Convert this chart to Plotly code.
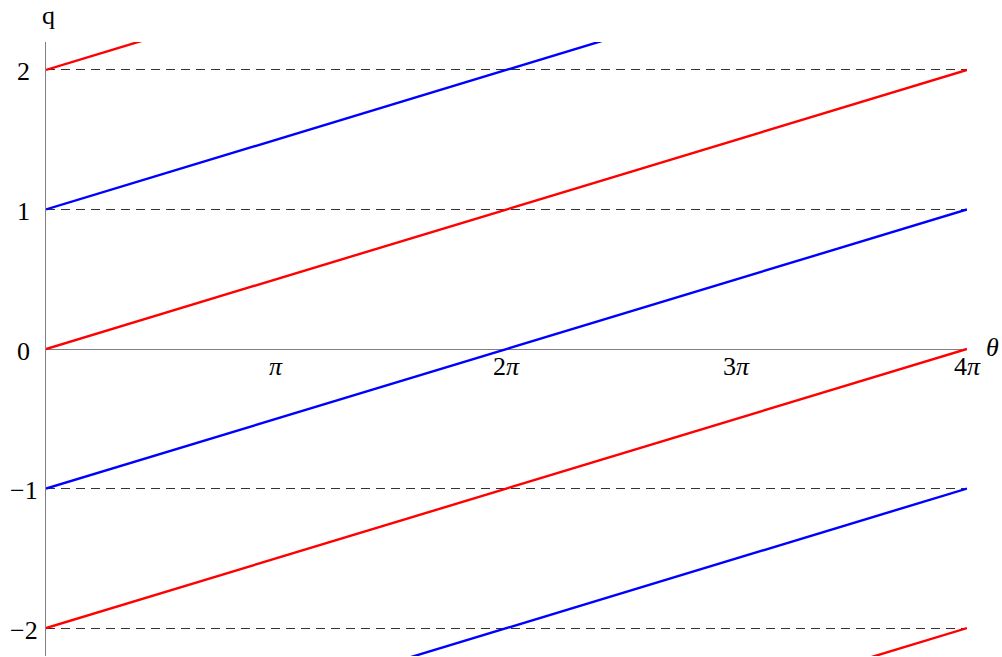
import math
import plotly.graph_objects as go

# Data: each line q = theta/(2*pi) + n drawn from theta=0 to theta=4*pi
theta_start = 0.0
theta_end = 4 * math.pi
q_start = [2, 1, 0, -1, -2, -3, -4]
q_end = [4, 3, 2, 1, 0, -1, -2]
line_colors = ["#ff0000", "#0000ff", "#ff0000", "#0000ff", "#ff0000", "#0000ff", "#ff0000"]

x_tickvals = [math.pi, 2 * math.pi, 3 * math.pi, 4 * math.pi]
x_ticktext = ["<i>π</i>", "2<i>π</i>", "3<i>π</i>", "4<i>π</i>"]
y_tickvals = [-2, -1, 0, 1, 2]
y_ticktext = ["−2", "−1", "0", "1", "2"]

fig = go.Figure()
for qs, qe, c in zip(q_start, q_end, line_colors):
    fig.add_trace(go.Scatter(
        x=[theta_start, theta_end], y=[qs, qe], mode="lines",
        line=dict(color=c, width=2.4), showlegend=False, hoverinfo="skip"))

font = dict(family="Liberation Serif, Times New Roman, serif", size=26, color="black")

annotations = []
for v, t in zip(x_tickvals, x_ticktext):
    annotations.append(dict(text=t, x=v, y=0, xref="x", yref="y",
                            xanchor="center", yanchor="middle", yshift=-17,
                            showarrow=False, font=font))
for v, t in zip(y_tickvals, y_ticktext):
    annotations.append(dict(text=t, x=0, y=v, xref="x", yref="y",
                            xanchor="center", yanchor="middle", xshift=-22.5, yshift=-2,
                            showarrow=False, font=font))
annotations.append(dict(text="q", x=0, y=1, xref="x", yref="paper", xanchor="center",
                        yanchor="middle", xshift=2, yshift=27, showarrow=False, font=font))
annotations.append(dict(text="<i>θ</i>", x=4 * math.pi, y=0, xref="x", yref="y",
                        xanchor="center", yanchor="middle", xshift=25, yshift=2,
                        showarrow=False, font=font))

fig.update_layout(
    width=1002, height=657,
    margin=dict(l=46, r=35, t=42, b=1),
    paper_bgcolor="white", plot_bgcolor="white",
    font=font,
    xaxis=dict(
        range=[0, 4 * math.pi], anchor="free", position=0.5,
        tickvals=x_tickvals, showticklabels=False, ticks="",
        showgrid=False, zeroline=False, showline=True,
        linecolor="#808080", linewidth=1, layer="below traces",
        automargin=False),
    yaxis=dict(
        range=[-2.2, 2.2], tickvals=y_tickvals, showticklabels=False, ticks="",
        showgrid=True, gridcolor="#333333", gridwidth=1, griddash="9px,6px",
        zeroline=False, showline=True, linecolor="#808080", linewidth=1,
        layer="below traces", automargin=False),
    annotations=annotations,
)

fig.write_html("out.html", config={"displayModeBar": False},
               post_script="document.body.style.margin='0';document.body.style.overflow='hidden';")
